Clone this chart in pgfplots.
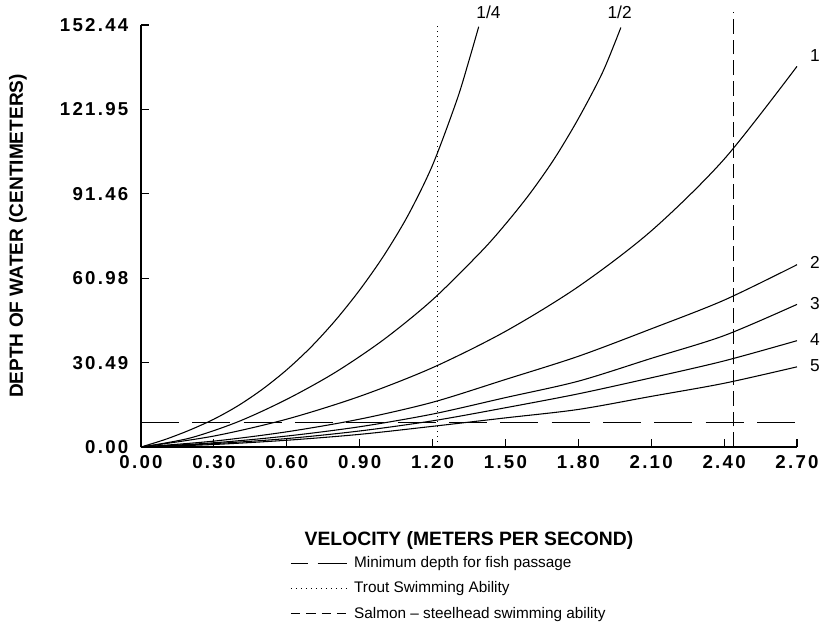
\documentclass[border=0pt]{standalone}
\usepackage{pgfplots}
\pgfplotsset{compat=1.18}
\usepackage{fontspec}
\setmainfont{Liberation Sans}
\newfontfamily\tickfont[LetterSpace=12]{Liberation Sans}
\begin{document}
\begin{tikzpicture}
\useasboundingbox (-105.75pt,-134.25pt) rectangle (512.25pt,335.25pt);
\begin{axis}[
  scale only axis, width=492pt, height=316.5pt,
  at={(0pt,0pt)}, anchor=south west,
  xmin=0, xmax=2.7, ymin=0, ymax=152.44,
  axis x line*=bottom, axis y line*=left,
  axis line style={black, line width=0.8pt},
  clip=false,
  xtick={0,0.3,0.6,0.9,1.2,1.5,1.8,2.1,2.4,2.7},
  xticklabels={0.00,0.30,0.60,0.90,1.20,1.50,1.80,2.10,2.40,2.70},
  ytick={0,30.49,60.98,91.46,121.95,152.44},
  yticklabels={0.00,30.49,60.98,91.46,121.95,152.44},
  tick align=inside, major tick length=6pt,
  tick style={black, line width=0.8pt},
  ticklabel style={font=\tickfont\bfseries\fontsize{14}{16}\selectfont},
  xticklabel style={yshift=-3pt},
  yticklabel style={xshift=-6pt},
  xlabel={VELOCITY (METERS PER SECOND)},
  ylabel={DEPTH OF WATER (CENTIMETERS)},
  xlabel style={at={(axis description cs:0.5,-0.222)}, anchor=center, font=\bfseries\fontsize{14.5}{17}\selectfont},
  ylabel style={at={(axis description cs:-0.1875,0.5)}, anchor=center, font=\bfseries\fontsize{14.3}{17}\selectfont},
  legend style={at={(axis description cs:0.227,-0.253)}, anchor=north west, draw=none, fill=none,
    font=\fontsize{11.5}{14}\selectfont, row sep=5pt, inner sep=0pt,
    /tikz/every odd column/.append style={column sep=3pt}},
  legend cell align=left,
]
% curve 1/4
\addplot[black, line width=0.8pt, smooth, forget plot] coordinates {
(0,0) (0.1,2.74) (0.2,6.10) (0.3,10.06) (0.4,14.94) (0.5,20.88) (0.6,27.90) (0.7,36.13)
(0.8,45.73) (0.9,56.71) (1.0,69.21) (1.1,83.84) (1.2,101.83) (1.3,125.31) (1.35,139.64) (1.39,151.83)};
% curve 1/2
\addplot[black, line width=0.8pt, smooth, forget plot] coordinates {
(0,0) (0.2,3.20) (0.4,9.15) (0.6,17.23) (0.8,26.98) (1.0,38.87) (1.2,53.20) (1.4,70.58)
(1.5,80.49) (1.6,91.46) (1.7,103.96) (1.8,118.60) (1.9,135.37) (1.975,151.53)};
% curve 1
\addplot[black, line width=0.8pt, smooth, forget plot] coordinates {
(0,0) (0.3,3.96) (0.6,10.06) (0.9,18.29) (1.2,28.66) (1.5,41.77) (1.8,57.93)
(2.1,78.05) (2.4,103.96) (2.7,137.50)};
% curve 2
\addplot[black, line width=0.8pt, smooth, forget plot] coordinates {
(0,0) (0.3,2.13) (0.6,5.49) (0.9,10.06) (1.2,16.16) (1.5,24.39) (1.8,32.77) (2.1,42.68) (2.4,53.05) (2.7,65.85)};
% curve 3
\addplot[black, line width=0.8pt, smooth, forget plot] coordinates {
(0,0) (0.3,1.52) (0.6,3.96) (0.9,7.32) (1.2,11.89) (1.5,17.84) (1.8,23.78) (2.1,32.01) (2.4,40.24) (2.7,51.52)};
% curve 4
\addplot[black, line width=0.8pt, smooth, forget plot] coordinates {
(0,0) (0.3,1.22) (0.6,3.05) (0.9,5.79) (1.2,9.45) (1.5,14.18) (1.8,19.21) (2.1,25.00) (2.4,31.10) (2.7,38.41)};
% curve 5
\addplot[black, line width=0.8pt, smooth, forget plot] coordinates {
(0,0) (0.3,0.91) (0.6,2.44) (0.9,4.57) (1.2,7.47) (1.5,10.52) (1.8,13.57) (2.1,18.29) (2.4,23.02) (2.7,28.96)};
% reference lines
\addplot[black, line width=0.7pt, dash pattern=on 28.5pt off 10pt,
  legend image code/.code={\draw[black,line width=0.7pt] (0pt,0pt) -- (13pt,0pt) (20pt,0pt) -- (42pt,0pt);}]
  coordinates {(0,9.0) (2.7,9.0)};
\addlegendentry{Minimum depth for fish passage}
\addplot[black, line width=1pt, dash pattern=on 1pt off 2.75pt,
  legend image code/.code={\draw[black,line width=1pt,dash pattern=on 1pt off 2.75pt] (0pt,0pt) -- (42pt,0pt);}]
  coordinates {(1.22,0) (1.22,152.44)};
\addlegendentry{Trout Swimming Ability}
\addplot[black, line width=0.7pt, dash pattern=on 11pt off 4.5pt,
  legend image code/.code={\draw[black,line width=0.7pt,dash pattern=on 7pt off 4.5pt] (0pt,0pt) -- (42pt,0pt);}]
  coordinates {(2.44,0) (2.44,157)};
\addlegendentry{Salmon -- steelhead swimming ability}
% curve labels
\node[font=\fontsize{13}{15}\selectfont] at (axis cs:1.43,157) {1/4};
\node[font=\fontsize{13}{15}\selectfont] at (axis cs:1.97,157) {1/2};
\node[font=\fontsize{13}{15}\selectfont, anchor=west] at (axis cs:2.735,141.5) {1};
\node[font=\fontsize{13}{15}\selectfont, anchor=west] at (axis cs:2.735,66.5) {2};
\node[font=\fontsize{13}{15}\selectfont, anchor=west] at (axis cs:2.735,52) {3};
\node[font=\fontsize{13}{15}\selectfont, anchor=west] at (axis cs:2.735,39) {4};
\node[font=\fontsize{13}{15}\selectfont, anchor=west] at (axis cs:2.735,29.5) {5};
\end{axis}
\end{tikzpicture}
\end{document}
